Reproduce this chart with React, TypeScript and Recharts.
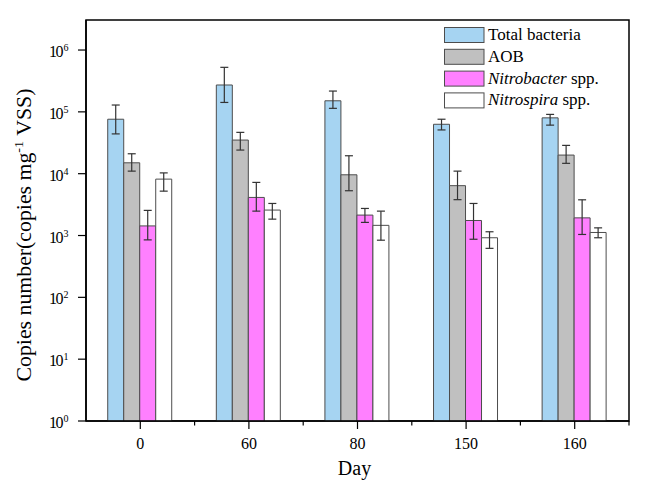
import React from 'react';
import { BarChart, Bar, XAxis, YAxis, ErrorBar, Legend, Label, ReferenceArea } from 'recharts';

const days = ['0', '60', '80', '150', '160'];

const totalBacteria = [76000, 272000, 151000, 63000, 80000];
const totalBacteriaHi = [129000, 525000, 217000, 76000, 91000];
const totalBacteriaLo = [44000, 142000, 114000, 51000, 61000];

const aob = [15000, 35000, 9600, 6400, 20000];
const aobHi = [21000, 46600, 19500, 11000, 28700];
const aobLo = [11000, 24100, 5300, 3800, 14700];

const nitrobacter = [1430, 4130, 2140, 1750, 1930];
const nitrobacterHi = [2550, 7230, 2740, 3300, 3780];
const nitrobacterLo = [850, 2480, 1630, 870, 1040];

const nitrospira = [8170, 2580, 1460, 920, 1120];
const nitrospiraHi = [10300, 3300, 2480, 1150, 1330];
const nitrospiraLo = [5220, 1840, 840, 620, 920];

const yTicks = [1, 10, 100, 1000, 10000, 100000, 1000000];
const Y_MIN = 1;
const Y_MAX = 3060000;

const FONT = '"Liberation Serif", "Times New Roman", serif';

const err = (v: number[], hi: number[], lo: number[], i: number) => [v[i] - lo[i], hi[i] - v[i]];

const data = days.map((d, i) => ({
  day: d,
  tb: totalBacteria[i],
  tbErr: err(totalBacteria, totalBacteriaHi, totalBacteriaLo, i),
  aob: aob[i],
  aobErr: err(aob, aobHi, aobLo, i),
  nb: nitrobacter[i],
  nbErr: err(nitrobacter, nitrobacterHi, nitrobacterLo, i),
  ns: nitrospira[i],
  nsErr: err(nitrospira, nitrospiraHi, nitrospiraLo, i),
}));

const series = [
  { key: 'tb', errKey: 'tbErr', name: 'Total bacteria', fill: '#A6D4F2' },
  { key: 'aob', errKey: 'aobErr', name: 'AOB', fill: '#C0C0C0' },
  { key: 'nb', errKey: 'nbErr', name: 'Nitrobacter spp.', fill: '#FF80FF' },
  { key: 'ns', errKey: 'nsErr', name: 'Nitrospira spp.', fill: '#FFFFFF' },
];

const X_TICK_SIZE = 8;
const X_TICK_MARGIN = 9;

const XTick = (props: any) => {
  const { x, y, payload, width, visibleTicksCount } = props;
  const axisY = y - X_TICK_SIZE - X_TICK_MARGIN;
  let half = payload && typeof payload.offset === 'number' && payload.offset > 0 ? payload.offset : 0;
  if (!half && width && visibleTicksCount) half = width / (2 * visibleTicksCount);
  return (
    <g>
      <line x1={x + half} x2={x + half} y1={axisY} y2={axisY + 4.5} stroke="#000" strokeWidth={1.2} />
      <text x={x} y={y} dy="0.71em" textAnchor="middle" fontFamily={FONT} fontSize={16} fill="#000">
        {payload.value}
      </text>
    </g>
  );
};

const YTick = (props: any) => {
  const { x, y, payload } = props;
  const exp = Math.round(Math.log10(payload.value));
  return (
    <text x={x - 27} y={y + 7} textAnchor="start" fontFamily={FONT} fontSize={16} fill="#000">
      <tspan letterSpacing={-1.5}>10</tspan>
      <tspan dx={1.5} dy={-6} fontSize={10}>{exp}</tspan>
    </text>
  );
};

const YTitle = (props: any) => {
  const vb = props.viewBox || { x: 0, y: 20, width: 86, height: 401 };
  const cx = 30.5;
  const cy = vb.y + vb.height / 2 + 14.5;
  return (
    <text
      x={cx}
      y={cy}
      transform={`rotate(-90, ${cx}, ${cy})`}
      textAnchor="middle"
      fontFamily={FONT}
      fontSize={20}
      fill="#000"
      textLength={293}
      lengthAdjust="spacingAndGlyphs"
    >
      Copies number(copies mg
      <tspan dy={-8} fontSize={13}>-1</tspan>
      <tspan dy={8}> VSS)</tspan>
    </text>
  );
};

const LegendContent = (props: any) => {
  const raw = props.payload || [];
  const order = series.map((s) => s.name);
  const payload = [...raw].sort((a: any, b: any) => order.indexOf(a.value) - order.indexOf(b.value));
  const rowH = 21.8;
  return (
    <svg width={200} height={100} style={{ overflow: 'visible' }}>
      {payload.map((p: any, i: number) => {
        const name: string = p.value;
        const top = i * rowH + 0.5;
        const italic = name.endsWith(' spp.');
        const main = italic ? name.slice(0, -5) : name;
        return (
          <g key={name}>
            <rect x={0.5} y={top} width={39.5} height={15} fill={p.color} stroke="#4d4d4d" strokeWidth={1} />
            <text x={44} y={top + 12.5} fontFamily={FONT} fontSize={17} fill="#000">
              {italic ? (
                <>
                  <tspan fontStyle="italic">{main}</tspan>
                  <tspan> spp.</tspan>
                </>
              ) : (
                main
              )}
            </text>
          </g>
        );
      })}
    </svg>
  );
};

export default function App() {
  return (
    <div style={{ position: 'absolute', left: 0, top: 0, width: 664, height: 489, background: '#fff' }}>
      <BarChart
        width={664}
        height={489}
        data={data}
        margin={{ top: 20, right: 35, left: 0, bottom: 28 }}
        barCategoryGap="20%"
        barGap={0}
      >
        <ReferenceArea y1={Y_MIN} y2={Y_MAX} fill="none" fillOpacity={0} stroke="#000" strokeWidth={1.5} ifOverflow="visible" />
        <XAxis
          dataKey="day"
          height={40}
          tickSize={X_TICK_SIZE}
          tickMargin={X_TICK_MARGIN}
          tick={<XTick />}
          axisLine={{ stroke: '#000', strokeWidth: 1.5 }}
          tickLine={{ stroke: '#000', strokeWidth: 1.2 }}
        >
          <Label value="Day" position="bottom" offset={0} dx={-3} fontFamily={FONT} fontSize={20} fill="#000" />
        </XAxis>
        <YAxis
          scale="log"
          type="number"
          domain={[Y_MIN, Y_MAX]}
          ticks={yTicks}
          allowDataOverflow
          width={86}
          tickSize={8}
          tick={<YTick />}
          axisLine={{ stroke: '#000', strokeWidth: 1.5 }}
          tickLine={{ stroke: '#000', strokeWidth: 1.2 }}
        >
          <Label content={<YTitle />} />
        </YAxis>
        <Legend
          layout="vertical"
          align="center"
          verticalAlign="middle"
          wrapperStyle={{ left: 444, top: 27, width: 200, height: 100 }}
          content={<LegendContent />}
        />
        {series.map((s) => (
          <Bar
            key={s.key}
            dataKey={s.key}
            name={s.name}
            fill={s.fill}
            stroke="#4d4d4d"
            strokeWidth={1}
            isAnimationActive={false}
          >
            <ErrorBar dataKey={s.errKey} width={4} stroke="#333" strokeWidth={1.2} direction="y" />
          </Bar>
        ))}
      </BarChart>
    </div>
  );
}
